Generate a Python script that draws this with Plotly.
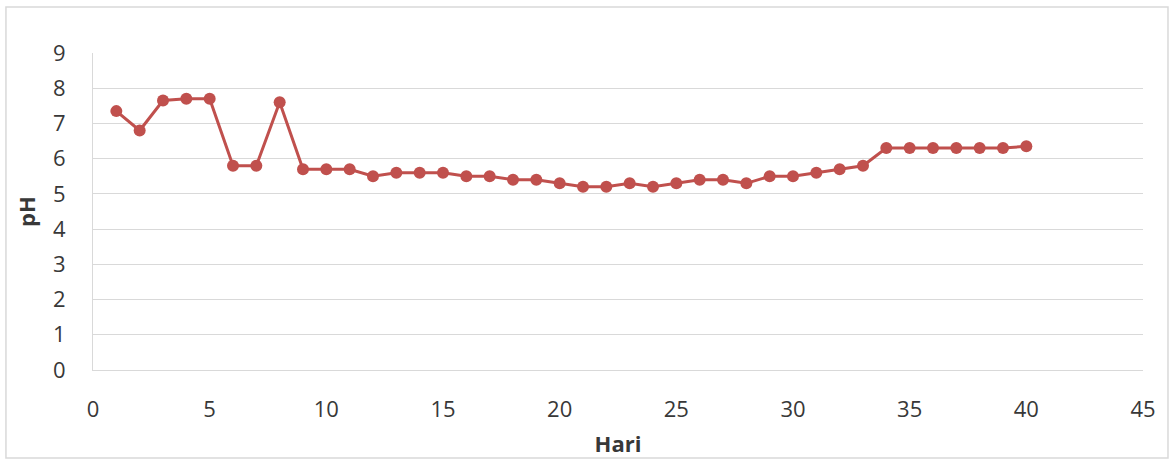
import plotly.graph_objects as go

# Daily pH readings
hari = list(range(1, 41))
ph = [7.35, 6.8, 7.65, 7.7, 7.7, 5.8, 5.8, 7.6, 5.7, 5.7,
      5.7, 5.5, 5.6, 5.6, 5.6, 5.5, 5.5, 5.4, 5.4, 5.3,
      5.2, 5.2, 5.3, 5.2, 5.3, 5.4, 5.4, 5.3, 5.5, 5.5,
      5.6, 5.7, 5.8, 6.3, 6.3, 6.3, 6.3, 6.3, 6.3, 6.35]

x_ticks = list(range(0, 46, 5))
y_ticks = list(range(0, 10))

RED = "#C0504D"
TEXT = "#383838"
GRID = "#D9D9D9"
FONT = "Open Sans"

fig = go.Figure()
fig.add_trace(go.Scatter(
    x=hari, y=ph, mode="lines+markers",
    line=dict(color=RED, width=3),
    marker=dict(color=RED, size=12),
    showlegend=False,
))

fig.update_layout(
    width=1170, height=462,
    margin=dict(l=93, r=27, t=53, b=92),
    paper_bgcolor="white", plot_bgcolor="white",
    font=dict(family=FONT, color=TEXT, size=22),
    xaxis=dict(
        range=[0, 45], tickvals=x_ticks, showgrid=False, zeroline=False,
        showline=True, linecolor=GRID, linewidth=1, automargin=False,
        ticks="outside", ticklen=20, tickcolor="rgba(0,0,0,0)",
        tickfont=dict(size=22, color=TEXT),
        title=dict(text="<b>Hari</b>", font=dict(size=22, color=TEXT), standoff=14),
    ),
    yaxis=dict(
        range=[0, 9], tickvals=y_ticks, showgrid=True, gridcolor=GRID, gridwidth=1,
        zeroline=False, showline=True, linecolor=GRID, linewidth=1, automargin=False,
        ticks="outside", ticklen=22, tickcolor="rgba(0,0,0,0)",
        tickfont=dict(size=22, color=TEXT),
        title=dict(text="<b>pH</b>", font=dict(size=22, color=TEXT), standoff=11),
    ),
    shapes=[dict(
        type="rect", xref="paper", yref="paper",
        x0=-0.0829, x1=1.0238, y0=-0.2776, y1=1.145,
        line=dict(color=GRID, width=1.5), layer="below",
    )],
)

fig.write_html("out.html")
